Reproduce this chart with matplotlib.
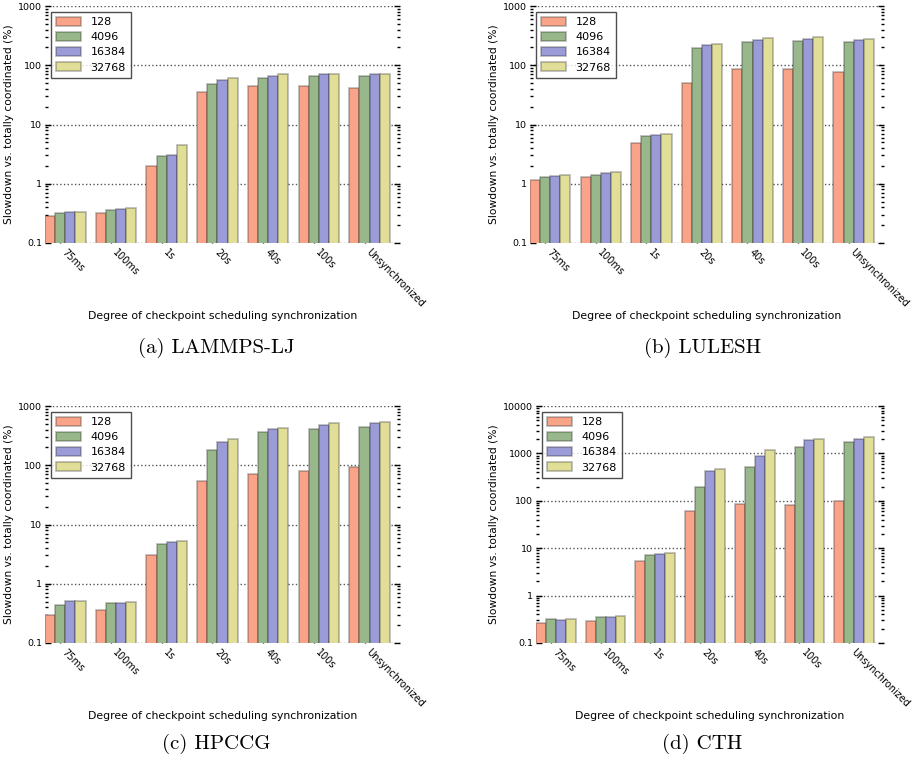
import numpy as np
import matplotlib
matplotlib.use("Agg")
import matplotlib.pyplot as plt
from matplotlib.ticker import LogLocator, NullFormatter
import matplotlib.transforms as mtransforms

categories = ["75ms", "100ms", "1s", "20s", "40s", "100s", "Unsynchronized"]
series_names = ["128", "4096", "16384", "32768"]
colors = ["#F9A488", "#98B78A", "#9B9BD7", "#E1DE98"]

lammps = {
    "128":   [0.29, 0.32, 2.0, 36, 45, 45, 41],
    "4096":  [0.32, 0.365, 2.9, 48, 61, 66, 66],
    "16384": [0.34, 0.38, 3.04, 57, 67, 70, 70],
    "32768": [0.34, 0.385, 4.43, 60, 70, 71, 72],
}
lulesh = {
    "128":   [1.15, 1.28, 4.85, 51, 87, 88, 78],
    "4096":  [1.29, 1.42, 6.3, 194, 244, 260, 244],
    "16384": [1.36, 1.53, 6.7, 217, 271, 282, 271],
    "32768": [1.38, 1.55, 6.8, 226, 285, 300, 282],
}
hpccg = {
    "128":   [0.30, 0.36, 3.08, 54, 72, 80, 94],
    "4096":  [0.43, 0.47, 4.67, 181, 360, 415, 443],
    "16384": [0.52, 0.48, 5.04, 244, 404, 484, 510],
    "32768": [0.51, 0.50, 5.3, 274, 431, 517, 531],
}
cth = {
    "128":   [0.268, 0.29, 5.4, 61, 85, 81, 101],
    "4096":  [0.326, 0.347, 7.3, 194, 511, 1347, 1774],
    "16384": [0.31, 0.353, 7.7, 435, 885, 1952, 2050],
    "32768": [0.32, 0.37, 7.9, 479, 1203, 2050, 2190],
}

panels = [
    (lammps, "(a) LAMMPS-LJ", 1000, [45, 6, 400, 243], 216, 348),
    (lulesh, "(b) LULESH", 1000, [530, 6, 884, 243], 703, 348),
    (hpccg, "(c) HPCCG", 1000, [45, 406, 400, 643], 216, 744),
    (cth, "(d) CTH", 10000, [536, 406, 884, 643], 702, 744),
]

W, H = 913, 764
fig = plt.figure(figsize=(W / 100, H / 100), dpi=100)

for data, caption, ymax, (x0, y0, x1, y1), cx, cy in panels:
    ax = fig.add_axes([x0 / W, 1 - y1 / H, (x1 - x0) / W, (y1 - y0) / H])
    ind = np.arange(len(categories))
    w = 0.2
    for k, name in enumerate(series_names):
        ax.bar(ind + k * w, data[name], w, align="edge", color=colors[k],
               edgecolor=(0.15, 0.15, 0.15, 0.3), linewidth=1.3, label=name,
               zorder=2)
    ax.set_yscale("log")
    ax.set_ylim(0.1, ymax)
    ax.set_xlim(0, len(categories))
    for s in ax.spines.values():
        s.set_visible(False)
    ax.yaxis.set_minor_locator(LogLocator(base=10, subs=np.arange(2, 10), numticks=20))
    ax.yaxis.set_minor_formatter(NullFormatter())
    exps = list(range(-1, int(round(np.log10(ymax))) + 1))
    ax.set_yticks([10.0 ** e for e in exps])
    ax.set_yticklabels([("%g" % (10.0 ** e)) for e in exps])
    ax.tick_params(axis="y", which="both", direction="in", left=True, right=True,
                   labelsize=6.8, pad=2)
    ax.tick_params(axis="y", which="major", length=4, width=1)
    ax.tick_params(axis="y", which="minor", length=2, width=1)
    ax.set_xticks(ind + 1.5 * w)
    ax.set_xticklabels(categories, rotation=-45, ha="left", va="top",
                       rotation_mode="default", fontsize=7)
    offset = mtransforms.ScaledTranslation(2 / 100, 0, fig.dpi_scale_trans)
    for lab in ax.get_xticklabels():
        lab.set_transform(lab.get_transform() + offset)
    ax.tick_params(axis="x", direction="in", top=False, bottom=True, length=4,
                   width=1, pad=3)
    ax.grid(axis="y", which="major", linestyle=":", color="#555555",
            linewidth=1, zorder=1)
    ax.set_axisbelow(True)
    ax.set_ylabel("Slowdown vs. totally coordinated (%)", fontsize=7.7, labelpad=3)
    ax.set_xlabel("Degree of checkpoint scheduling synchronization", fontsize=7.8,
                  labelpad=1)
    leg = ax.legend(loc="upper left", fontsize=8, fancybox=False,
                    borderaxespad=0.55, handlelength=2.2, handleheight=0.8,
                    labelspacing=0.45, borderpad=0.45, handletextpad=0.9)
    leg.get_frame().set_edgecolor("#222222")
    leg.get_frame().set_linewidth(1.0)
    fig.text(cx / W, 1 - cy / H, caption, fontfamily="cmr10", fontsize=15,
             ha="center", va="center")

fig.savefig("out.png", dpi=100)
